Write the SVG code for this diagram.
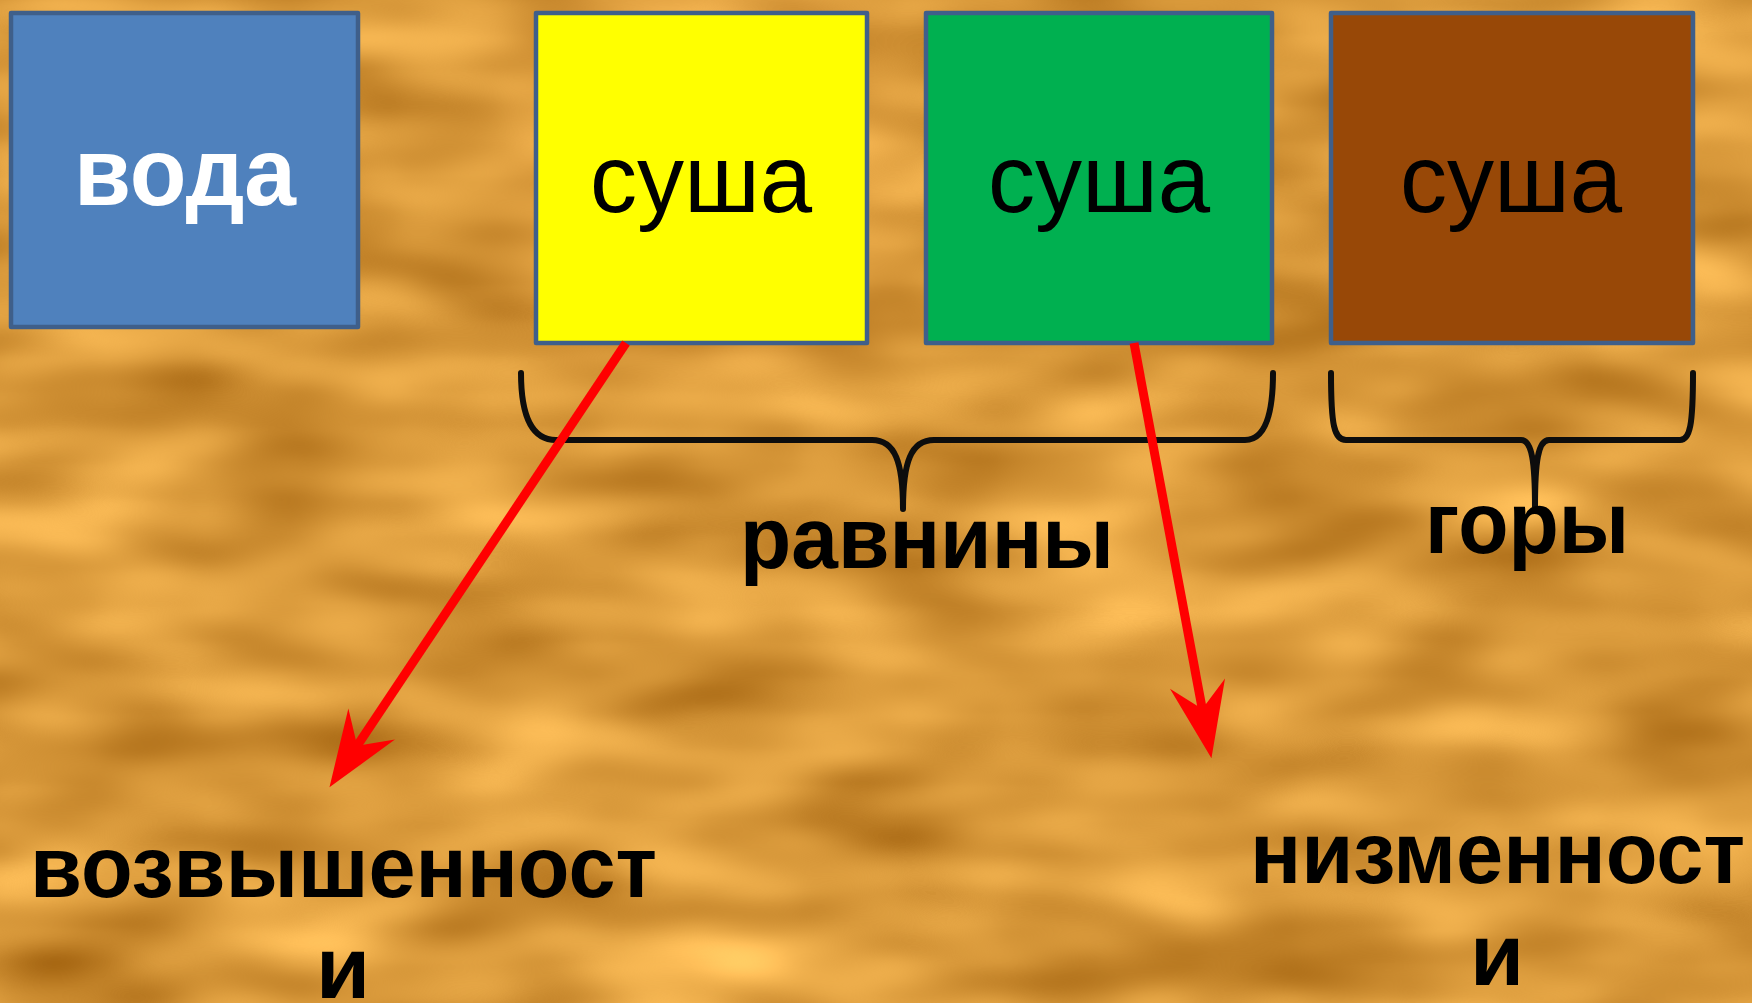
<svg xmlns="http://www.w3.org/2000/svg" width="1752" height="1003" viewBox="0 0 1752 1003">
<defs>
  <filter id="tex" x="0" y="0" width="1752" height="1003" filterUnits="userSpaceOnUse" color-interpolation-filters="sRGB">
    <feTurbulence type="fractalNoise" baseFrequency="0.005 0.014" numOctaves="2" seed="7" result="n"/>
    <feColorMatrix in="n" type="matrix" values="0.5 0 0 0 0.6  0.5 0 0 0 0.35  0.4 0 0 0 0.03  0 0 0 0 1"/>
  </filter>
  <marker id="head" viewBox="-80 -32 85 64" markerWidth="85" markerHeight="64" markerUnits="userSpaceOnUse" refX="-46" refY="0" orient="auto">
    <path d="M0 0 L-76 -28 L-50 0 L-76 28 Z" fill="#ff0000"/>
  </marker>
</defs>
<style>
  .box { stroke: #3f5f8a; stroke-width: 4.5; stroke-linejoin: round; }
  .lbl { font-family: "Liberation Sans", Arial, sans-serif; text-anchor: middle; }
  .big { font-size: 96px; }
  .bold { font-weight: bold; font-size: 88px; fill: #000; }
  .brace { fill: none; stroke: #0d0d0d; stroke-width: 6; stroke-linecap: round; stroke-linejoin: round; }
  .arrow { fill: none; stroke: #ff0000; stroke-width: 9; marker-end: url(#head); }
</style>
<rect width="1752" height="1003" fill="#d99a3b"/>
<rect width="1752" height="1003" filter="url(#tex)"/>

<g id="braces">
  <path class="brace" d="M521 373 C521 412 530 440 556 440 L872 440 C895 440 903 462 903 509 C903 462 911 440 934 440 L1245 440 C1266 440 1273 412 1273 373"/>
  <path class="brace" d="M1331 373 C1331 425 1334 440 1346 440 L1521 440 C1532 440 1535 462 1535 507 C1535 462 1538 440 1549 440 L1680 440 C1690 440 1693 425 1693 373"/>
</g>

<g id="node-voda">
  <rect class="box" x="11" y="13" width="347" height="314" fill="#4f81bd"/>
  <text class="lbl big" x="185" y="205" font-weight="bold" fill="#ffffff" textLength="222" lengthAdjust="spacingAndGlyphs">вода</text>
</g>
<g id="node-susha-yellow">
  <rect class="box" x="536" y="13" width="331" height="330" fill="#ffff00"/>
  <text class="lbl big" x="701" y="212" fill="#000" textLength="222" lengthAdjust="spacingAndGlyphs">суша</text>
</g>
<g id="node-susha-green">
  <rect class="box" x="926" y="13" width="346" height="330" fill="#00b050"/>
  <text class="lbl big" x="1099" y="212" fill="#000" textLength="222" lengthAdjust="spacingAndGlyphs">суша</text>
</g>
<g id="node-susha-brown">
  <rect class="box" x="1331" y="13" width="362" height="330" fill="#984807"/>
  <text class="lbl big" x="1511" y="212" fill="#000" textLength="222" lengthAdjust="spacingAndGlyphs">суша</text>
</g>

<g id="connectors">
  <line class="arrow" x1="626" y1="343" x2="355" y2="749"/>
  <line class="arrow" x1="1134" y1="343" x2="1203" y2="713"/>
</g>

<g id="node-ravniny">
  <text class="lbl bold" x="927" y="568" textLength="374" lengthAdjust="spacingAndGlyphs">равнины</text>
</g>
<g id="node-gory">
  <text class="lbl bold" x="1527" y="553" textLength="204" lengthAdjust="spacingAndGlyphs">горы</text>
</g>
<g id="node-vozvyshennosti">
  <text class="lbl bold" x="343.5" y="897" textLength="627" lengthAdjust="spacingAndGlyphs">возвышенност</text>
  <text class="lbl bold" x="343" y="998">и</text>
</g>
<g id="node-nizmennosti">
  <text class="lbl bold" x="1497.5" y="883" textLength="495" lengthAdjust="spacingAndGlyphs">низменност</text>
  <text class="lbl bold" x="1497" y="985">и</text>
</g>
</svg>
